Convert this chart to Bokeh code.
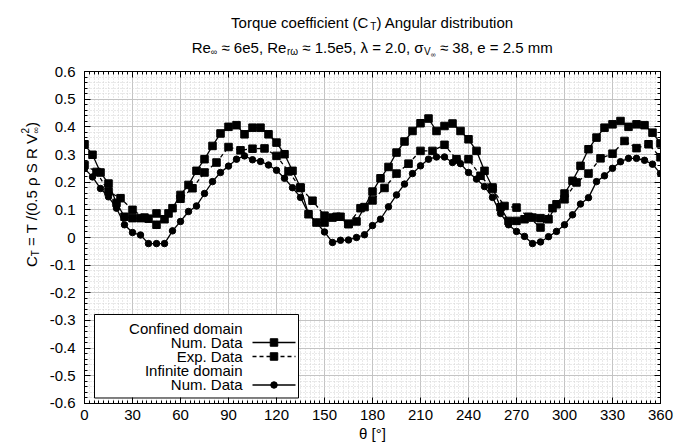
import math
from bokeh.plotting import figure
from bokeh.layouts import column, row
from bokeh.models import Range1d, LinearAxis, FixedTicker, CustomJSTickFormatter, Label
from bokeh.embed import file_html
from bokeh.resources import INLINE

# ---------------- data ----------------
theta_num = [0, 5, 10, 15, 20, 25, 30, 35, 40, 45, 50, 55, 60, 65, 70, 75, 80, 85, 90, 95,
             100, 105, 110, 115, 120, 125, 130, 135, 140, 145, 150, 155, 160, 165, 170, 175,
             180, 185, 190, 195, 200, 205, 210, 215, 220, 225, 230, 235, 240, 245, 250, 255,
             260, 265, 270, 275, 280, 285, 290, 295, 300, 305, 310, 315, 320, 325, 330, 335,
             340, 345, 350, 355, 360]

confined_num = [0.337, 0.299, 0.235, 0.195, 0.125, 0.075, 0.070, 0.070, 0.068, 0.087,
                0.066, 0.106, 0.154, 0.190, 0.241, 0.283, 0.331, 0.376, 0.400, 0.406,
                0.373, 0.397, 0.397, 0.373, 0.343, 0.301, 0.241, 0.181, 0.084, 0.054,
                0.054, 0.072, 0.075, 0.050, 0.058, 0.110, 0.166, 0.214, 0.255, 0.307,
                0.347, 0.385, 0.413, 0.430, 0.385, 0.403, 0.412, 0.385, 0.355, 0.313,
                0.241, 0.181, 0.109, 0.060, 0.060, 0.066, 0.072, 0.070, 0.066, 0.120,
                0.159, 0.205, 0.259, 0.319, 0.361, 0.397, 0.409, 0.421, 0.400, 0.409,
                0.406, 0.379, 0.340]

infinite_num = [0.249, 0.219, 0.177, 0.147, 0.106, 0.046, 0.018, 0.009, -0.022, -0.022,
                -0.022, 0.024, 0.058, 0.094, 0.114, 0.159, 0.202, 0.235, 0.258, 0.283,
                0.295, 0.281, 0.275, 0.262, 0.243, 0.214, 0.180, 0.145, 0.087, 0.054,
                0.020, -0.018, -0.010, -0.009, 0.000, 0.010, 0.043, 0.066, 0.111, 0.154,
                0.193, 0.231, 0.259, 0.283, 0.291, 0.291, 0.271, 0.267, 0.235, 0.211,
                0.184, 0.145, 0.087, 0.046, 0.022, 0.004, -0.022, -0.016, 0.003, 0.022,
                0.046, 0.082, 0.121, 0.144, 0.202, 0.223, 0.250, 0.274, 0.286, 0.286,
                0.279, 0.265, 0.231]

theta_exp = [0, 7.5, 15, 22.5, 30, 37.5, 45, 52.5, 60, 67.5, 75, 82.5, 90, 97.5, 105, 112.5,
             120, 127.5, 135, 142.5, 150, 157.5, 165, 172.5, 180, 187.5, 195, 202.5, 210,
             217.5, 225, 232.5, 240, 247.5, 255, 262.5, 270, 277.5, 285, 292.5, 300, 307.5,
             315, 322.5, 330, 337.5, 345, 352.5, 360]

confined_exp = [0.262, 0.237, 0.166, 0.142, 0.100, 0.072, 0.046, 0.087, 0.140, 0.178,
                0.235, 0.271, 0.327, 0.315, 0.321, 0.322, 0.295, 0.239, 0.179, 0.133,
                0.079, 0.075, 0.048, 0.106, 0.134, 0.179, 0.231, 0.267, 0.313, 0.313,
                0.335, 0.283, 0.283, 0.223, 0.175, 0.114, 0.108, 0.075, 0.036, 0.106,
                0.138, 0.199, 0.231, 0.286, 0.303, 0.349, 0.323, 0.337, 0.290]

x_ticks = [0, 30, 60, 90, 120, 150, 180, 210, 240, 270, 300, 330, 360]
y_ticks = [-0.6, -0.5, -0.4, -0.3, -0.2, -0.1, 0.0, 0.1, 0.2, 0.3, 0.4, 0.5, 0.6]
x_minor_step = 3
y_minor_step = 0.02

legend_labels = ["Confined domain", "Num. Data", "Exp. Data", "Infinite domain", "Num. Data"]

# ---------------- layout constants (page pixels) ----------------
FONT = "Liberation Sans"
PAGE_W, PAGE_H = 676, 446
TH = 63                                  # height of the title strip
YW = 44                                  # width of the y-label strip
FL, FR, FT, FB = 84, 660, 71, 403        # data frame edges on the page
X0, X1, Y0, Y1 = 0, 360, -0.6, 0.6

W = {' ': 278, '(': 333, ')': 333, ',': 278, '.': 278, '/': 278, '-': 333, '=': 584,
     '≈': 584, '[': 278, ']': 278, '°': 400,
     'A': 667, 'C': 722, 'D': 722, 'E': 667, 'R': 722, 'S': 667, 'T': 611, 'V': 667, 'N': 722,
     'a': 556, 'b': 556, 'c': 500, 'd': 556, 'e': 556, 'f': 278, 'g': 556, 'i': 222, 'l': 222,
     'm': 833, 'n': 556, 'o': 556, 'p': 556, 'q': 556, 'r': 333, 's': 500, 't': 278, 'u': 556,
     'λ': 500, 'σ': 617, 'ρ': 577, 'ω': 781, 'θ': 556, '∞': 713}


def tw(s, size):
    return sum(W.get(c, 556) for c in s) * size / 1000.0


def dx(px):
    return X0 + (px - FL) / (FR - FL) * (X1 - X0)


def dy(py):
    return Y1 - (py - FT) / (FB - FT) * (Y1 - Y0)


# ---------------- main plot ----------------
MW, MH = PAGE_W - YW, PAGE_H - TH
p = figure(width=MW, height=MH, output_backend="svg", toolbar_location=None,
           x_range=Range1d(X0, X1), y_range=Range1d(Y0 - 1e-6, Y1 + 1e-6),
           min_border_left=FL - YW, min_border_right=PAGE_W - FR,
           min_border_top=FT - TH, min_border_bottom=PAGE_H - FB)
p.background_fill_color = "white"
p.border_fill_color = "white"
p.outline_line_color = "black"
p.outline_line_width = 1

bottom_ax = p.below[0]
left_ax = p.left[0]

x_minor = [i * x_minor_step for i in range(int(360 / x_minor_step) + 1)]
y_minor = [round(-0.6 + i * y_minor_step, 4) for i in range(int(round(1.2 / y_minor_step)) + 1)]
xt = FixedTicker(ticks=x_ticks, minor_ticks=x_minor)
yt = FixedTicker(ticks=y_ticks, minor_ticks=y_minor)
bottom_ax.ticker = xt
left_ax.ticker = yt
p.xgrid[0].ticker = xt
p.ygrid[0].ticker = yt
left_ax.formatter = CustomJSTickFormatter(code="""
const v = Math.round(tick*10)/10;
if (Math.abs(v) < 1e-9) { return "0"; }
return v.toFixed(1);
""")
bottom_ax.formatter = CustomJSTickFormatter(code="return Math.round(tick).toString();")

blank = CustomJSTickFormatter(code='return "";')
top_ax = LinearAxis(ticker=xt, formatter=blank)
right_ax = LinearAxis(ticker=yt, formatter=blank)
p.add_layout(top_ax, "above")
p.add_layout(right_ax, "right")

for ax in [bottom_ax, left_ax, top_ax, right_ax]:
    ax.axis_line_color = "black"
    ax.axis_line_width = 1
    ax.major_tick_line_color = "black"
    ax.minor_tick_line_color = "black"
    ax.major_tick_in = 6
    ax.major_tick_out = 0
    ax.minor_tick_in = 3
    ax.minor_tick_out = 0
    ax.major_label_text_font = FONT
    ax.major_label_text_font_size = "15px"
    ax.major_label_text_color = "black"
for ax in [top_ax, right_ax]:
    ax.major_label_text_font_size = "0px"
    ax.major_label_standoff = 0
left_ax.major_label_standoff = 9
bottom_ax.major_label_standoff = 6
bottom_ax.axis_label = "θ [°]"
bottom_ax.axis_label_text_font = FONT
bottom_ax.axis_label_text_font_size = "15px"
bottom_ax.axis_label_text_font_style = "normal"
bottom_ax.axis_label_text_color = "black"
bottom_ax.axis_label_standoff = 2

for g in [p.xgrid[0], p.ygrid[0]]:
    g.grid_line_color = "#c4c4c4"
    g.grid_line_width = 1
    g.minor_grid_line_color = "#d2d2d2"
    g.minor_grid_line_dash = "1 2"
    g.minor_grid_line_width = 1

LW = 1.3
SQ, CI = 7.5, 6.5
p.line(theta_num, confined_num, line_color="black", line_width=LW)
p.scatter(theta_num, confined_num, marker="square", size=SQ, color="black")
p.line(theta_exp, confined_exp, line_color="black", line_width=LW, line_dash="4 3")
p.scatter(theta_exp, confined_exp, marker="square", size=SQ, color="black")
p.line(theta_num, infinite_num, line_color="black", line_width=LW)
p.scatter(theta_num, infinite_num, marker="circle", size=CI, color="black")

# legend (drawn by hand: labels on the left, symbols on the right, two group headers)
p.quad(left=dx(94), right=dx(298), top=dy(314), bottom=dy(397.5),
       fill_color="white", line_color="black", line_width=1)
row_y = [328, 342, 356, 370.5, 384.5]
row_sym = [None, ("square", None), ("square", "4 3"), None, ("circle", None)]
for lab, yc, sym in zip(legend_labels, row_y, row_sym):
    p.add_layout(Label(x=dx(242), y=dy(yc), text=lab, text_font=FONT, text_font_size="15px",
                       text_align="right", text_baseline="middle", text_color="black"))
    if sym is not None:
        mk, dash = sym
        p.line([dx(252), dx(295)], [dy(yc), dy(yc)], line_color="black", line_width=LW,
               line_dash=dash if dash else "solid")
        p.scatter([dx(273.5)], [dy(yc)], marker=mk, size=SQ if mk == "square" else CI,
                  color="black")


# ---------------- strips for title and y label ----------------
def strip(w, h):
    f = figure(width=w, height=h, output_backend="svg", toolbar_location=None,
               x_axis_type=None, y_axis_type=None, min_border=0,
               x_range=Range1d(0, w), y_range=Range1d(0, h))
    f.outline_line_color = None
    f.background_fill_color = "white"
    f.border_fill_color = "white"
    f.xgrid.visible = False
    f.ygrid.visible = False
    return f


title_fig = strip(PAGE_W, TH)
ylab_fig = strip(YW, PAGE_H - TH)


def put(fig, ox, oy_bottom, x_px, y_px, s, size, angle=0.0):
    # page pixel position -> strip screen coords (origin bottom-left of strip)
    fig.add_layout(Label(x=x_px - ox, y=oy_bottom - y_px, x_units="screen", y_units="screen",
                         text=s, text_font=FONT, text_font_size=f"{size}px",
                         text_align="left", text_baseline="alphabetic",
                         angle=angle, text_color="black"))


def total(pieces):
    return sum(tw(pc[0], pc[1]) for pc in pieces if (len(pc) < 4 or pc[3]))


def run(fig, ox, oy_bottom, pieces, center, base, horizontal=True):
    pos = center - total(pieces) / 2.0 if horizontal else center + total(pieces) / 2.0
    for pc in pieces:
        s, size, shift = pc[0], pc[1], pc[2]
        adv = pc[3] if len(pc) > 3 else True
        lead = len(s) - len(s.lstrip(" "))
        off = tw(s[:lead], size)
        if horizontal:
            put(fig, ox, oy_bottom, pos + off, base + shift, s.strip(" "), size)
        else:
            put(fig, ox, oy_bottom, base + shift, pos - off, s.strip(" "), size,
                angle=math.pi / 2)
        if adv:
            w = tw(s, size)
            pos = pos + w if horizontal else pos - w


CX = (FL + FR) / 2.0
CY = (FT + FB) / 2.0

run(title_fig, 0, TH,
    [("Torque coefficient (C", 15, 0), ("T", 10, 4), (") Angular distribution", 15, 0)],
    CX, 22)
run(title_fig, 0, TH,
    [("Re", 15, 0), ("∞", 9, 4), (" ≈ 6e5, Re", 15, 0), ("rω", 10, 4),
     (" ≈ 1.5e5, λ = 2.0, σ", 15, 0), ("V", 10, 4), ("∞", 7, 7),
     (" ≈ 38, e = 2.5 mm", 15, 0)], CX, 47)
run(ylab_fig, 0, PAGE_H,
    [("C", 15, 0), ("T", 10, 4), (" = T /(0.5 ρ S R V", 15, 0), ("2", 10, -7, False),
     ("∞", 9, 4), (")", 15, 0)], CY, 31, horizontal=False)

layout = column(title_fig, row(ylab_fig, p, spacing=0), spacing=0)
open("out.html", "w").write(file_html(layout, INLINE))
